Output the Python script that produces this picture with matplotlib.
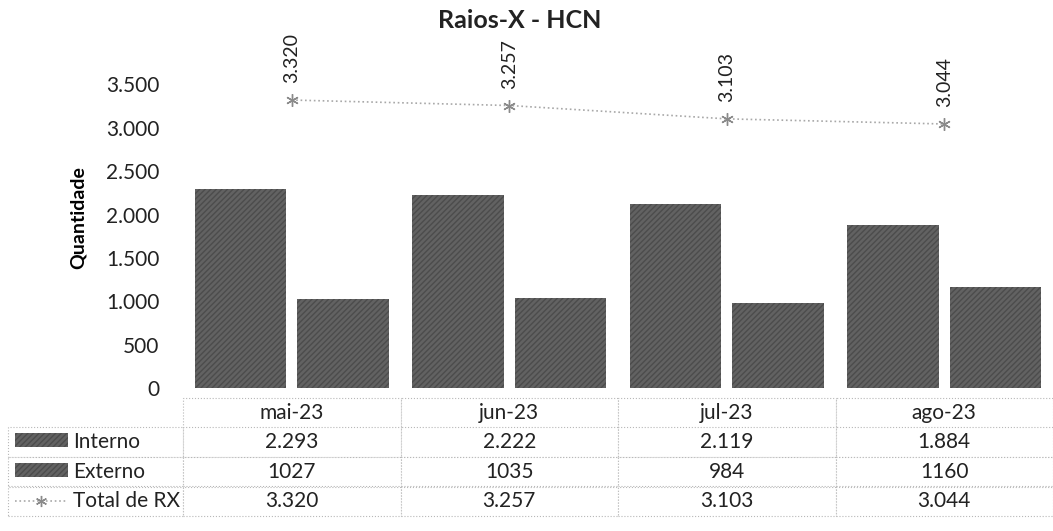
import matplotlib as mpl
import matplotlib.pyplot as plt
import numpy as np
from matplotlib.patches import Rectangle
from matplotlib.lines import Line2D
mpl.use('Agg')

plt.rcParams['font.family'] = ['Lato', 'DejaVu Sans']

meses = ['mai-23', 'jun-23', 'jul-23', 'ago-23']
interno = [2293, 2222, 2119, 1884]
externo = [1027, 1035, 984, 1160]
total = [3320, 3257, 3103, 3044]
yticks = [0, 500, 1000, 1500, 2000, 2500, 3000, 3500]

def fmt(v):
    return f'{v:,}'.replace(',', '.')

W, H = 1053, 531
fig = plt.figure(figsize=(W / 100, H / 100), dpi=100)
ax = fig.add_axes([183 / W, 1 - 388 / H, 870 / W, 340 / H])

x = np.arange(len(meses))
bw = 0.42
ax.bar(x - 0.235, interno, bw, facecolor='#626262', edgecolor='#4c4c4c',
       hatch='//////', linewidth=0)
ax.bar(x + 0.235, externo, bw, facecolor='#626262', edgecolor='#4c4c4c',
       hatch='//////', linewidth=0)
ax.plot(x, total, color='#a8a8a8', linestyle=':', linewidth=1.2,
        marker=(6, 2, 0), markersize=9, markeredgecolor='#8a8a8a',
        markeredgewidth=1)
for xi, v in zip(x, total):
    ax.annotate(fmt(v), (xi, v), xytext=(0, 12), textcoords='offset points',
                rotation=90, ha='center', va='bottom', fontsize=14,
                color='#222222', annotation_clip=False)

ax.set_xlim(-0.5, 3.5)
ax.set_ylim(0, 3920)
ax.set_yticks(yticks)
ax.set_yticklabels([fmt(v) for v in yticks], fontsize=15, color='#222222')
ax.set_xticks([])
ax.tick_params(axis='y', length=0, pad=17)
for s in ax.spines.values():
    s.set_visible(False)
ax.set_ylabel('Quantidade', fontsize=14, fontweight='bold', labelpad=14)

fig.text(520 / W, 1 - 21 / H, 'Raios-X - HCN', fontsize=18, fontweight='bold',
         ha='center', va='center', color='#222222')

# tabela de dados
labels = ['Interno', 'Externo', 'Total de RX']
rows = [[labels[0]] + [fmt(v) for v in interno],
        [labels[1]] + [str(v) for v in externo],
        [labels[2]] + [fmt(v) for v in total]]
cells = [[''] + meses] + rows
x0 = (8 - 183) / 870
tb = ax.table(cellText=cells, cellLoc='center',
              colWidths=[175, 217.5, 217.5, 217.5, 217.5],
              bbox=[x0, -128 / 340, 1 - x0, 118 / 340])
tb.auto_set_font_size(False)
for (r, c), cell in tb.get_celld().items():
    cell.set_edgecolor('#b8b8b8')
    cell.set_linewidth(0.8)
    cell.set_linestyle(':')
    cell.get_text().set_fontsize(15)
    cell.get_text().set_color('#222222')
    if r == 0 and c == 0:
        cell.visible_edges = ''
    if c == 0 and r > 0:
        cell._loc = 'left'
        cell.PAD = 0.37
        cell.get_text().set_ha('left')

# legenda dentro da tabela
for yy in [440, 470]:
    fig.add_artist(Rectangle((15 / W, 1 - (yy + 7) / H), 53 / W, 14 / H,
                             facecolor='#626262', edgecolor='#4c4c4c',
                             hatch='//////', linewidth=0,
                             transform=fig.transFigure))
fig.add_artist(Line2D([15 / W, 68 / W], [1 - 501 / H, 1 - 501 / H],
                      color='#a8a8a8', linestyle=':', linewidth=1.2,
                      transform=fig.transFigure))
fig.add_artist(Line2D([41 / W], [1 - 501 / H], marker=(6, 2, 0),
                      markersize=8, markeredgecolor='#8a8a8a',
                      color='#8a8a8a', transform=fig.transFigure))

fig.savefig('out.png', dpi=100)
